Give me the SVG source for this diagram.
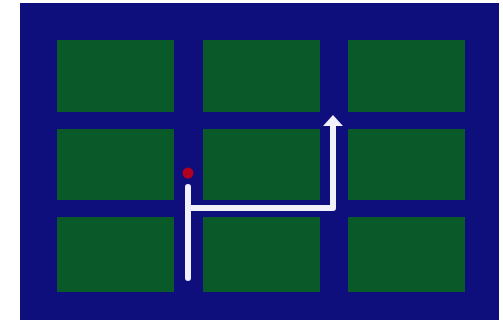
<svg xmlns="http://www.w3.org/2000/svg" width="503" height="323" viewBox="0 0 503 323">
<style>
.cell{fill:#0a5a29}
.route{fill:none;stroke:#f2f0fa;stroke-width:6;stroke-linecap:round;stroke-linejoin:round}
.head{fill:#f2f0fa}
</style>
<rect width="503" height="323" fill="#ffffff"/>
<rect id="board" x="20" y="3" width="479" height="317" fill="#0e0e7c"/>
<g id="cell-1-1"><rect class="cell" x="57" y="40" width="117" height="72"/></g>
<g id="cell-1-2"><rect class="cell" x="203" y="40" width="117" height="72"/></g>
<g id="cell-1-3"><rect class="cell" x="348" y="40" width="117" height="72"/></g>
<g id="cell-2-1"><rect class="cell" x="57" y="129" width="117" height="71"/></g>
<g id="cell-2-2"><rect class="cell" x="203" y="129" width="117" height="71"/></g>
<g id="cell-2-3"><rect class="cell" x="348" y="129" width="117" height="71"/></g>
<g id="cell-3-1"><rect class="cell" x="57" y="217" width="117" height="75"/></g>
<g id="cell-3-2"><rect class="cell" x="203" y="217" width="117" height="75"/></g>
<g id="cell-3-3"><rect class="cell" x="348" y="217" width="117" height="75"/></g>
<g id="connectors">
<path class="route" d="M188,278 L188,187"/>
<path class="route" d="M188,208 L333,208 L333,124"/>
<path class="head" d="M323,126 L333,115 L343,126 Z"/>
</g>
<g id="start"><circle cx="188" cy="173" r="5.5" fill="#b00020"/></g>
</svg>
